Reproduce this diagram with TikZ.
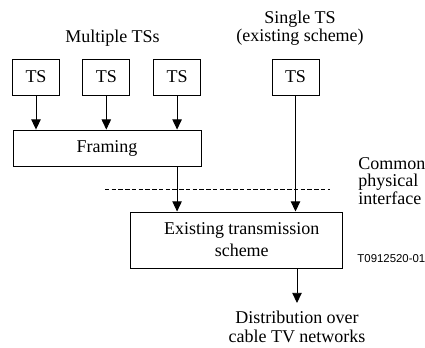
\documentclass[tikz,border=0pt]{standalone}
\usepackage{fontspec}
\setmainfont{Liberation Serif}
\newfontfamily\labelfont{Liberation Sans}
\usetikzlibrary{arrows.meta, positioning}

\begin{document}
\begin{tikzpicture}[x=0.667pt, y=-0.667pt, line width=0.6pt, on grid,
    font=\fontsize{12}{12.5}\selectfont,
    block/.style={draw, inner sep=0pt, minimum height=24pt, align=center},
    tsbox/.style={block, minimum width=31.3pt},
    arr/.style={-{Triangle[width=6.3pt,length=6.8pt]}}]
    \useasboundingbox (0,0) rectangle (425,347);
    \node[tsbox] (ts_1) at (36,77) {TS};
    \node[tsbox] (ts_2) [right=46.9pt of ts_1] {TS};
    \node[tsbox] (ts_3) [right=47.2pt of ts_2] {TS};
    \node[tsbox] (ts_4) at (295.5,77) {TS};
    \node[block, minimum width=125.4pt] (framing) at (107,148) {Framing};
    \node[block, minimum width=142pt, minimum height=37.4pt,
          font=\fontsize{12}{14.7}\selectfont] (existing) at (236.5,240) {\hspace*{7pt}Existing transmission\\\hspace*{7pt}scheme};
    \node[anchor=base, inner sep=0pt] (multi) at (112.5,42.5) {Multiple TSs};
    \node[anchor=south, inner sep=0pt, align=center,
          font=\fontsize{12}{12}\selectfont] (single) at (300,46) {Single TS\\(existing scheme)};
    \node[anchor=north, inner sep=0pt, outer ysep=5.3pt, align=center,
          font=\fontsize{12}{12.7}\selectfont] (dist) at (297,303) {Distribution over\\cable TV networks};
    \node[anchor=north west, inner sep=0pt, align=left,
          font=\fontsize{12}{11.7}\selectfont] (common) at (358,157) {Common\\physical\\interface};
    \node[anchor=base west, inner sep=0pt,
          font=\labelfont\fontsize{7.6}{9}\selectfont] (ref) at (357,262) {T0912520-01};
    \coordinate (dash_l) at (105,189);
    \coordinate (dash_r) at (330,189);
    \draw[line width=0.5pt, dash pattern=on 3pt off 1.5pt] (dash_l) -- (dash_r);
    \path[arr]
    (ts_1) edge (ts_1 |- framing.north)
    (ts_2) edge (ts_2 |- framing.north)
    (ts_3) edge (ts_3 |- framing.north)
    (ts_3 |- framing.south) edge (ts_3 |- existing.north)
    (ts_4) edge (ts_4 |- existing.north)
    (existing.south -| dist) edge (dist);
\end{tikzpicture}
\end{document}
